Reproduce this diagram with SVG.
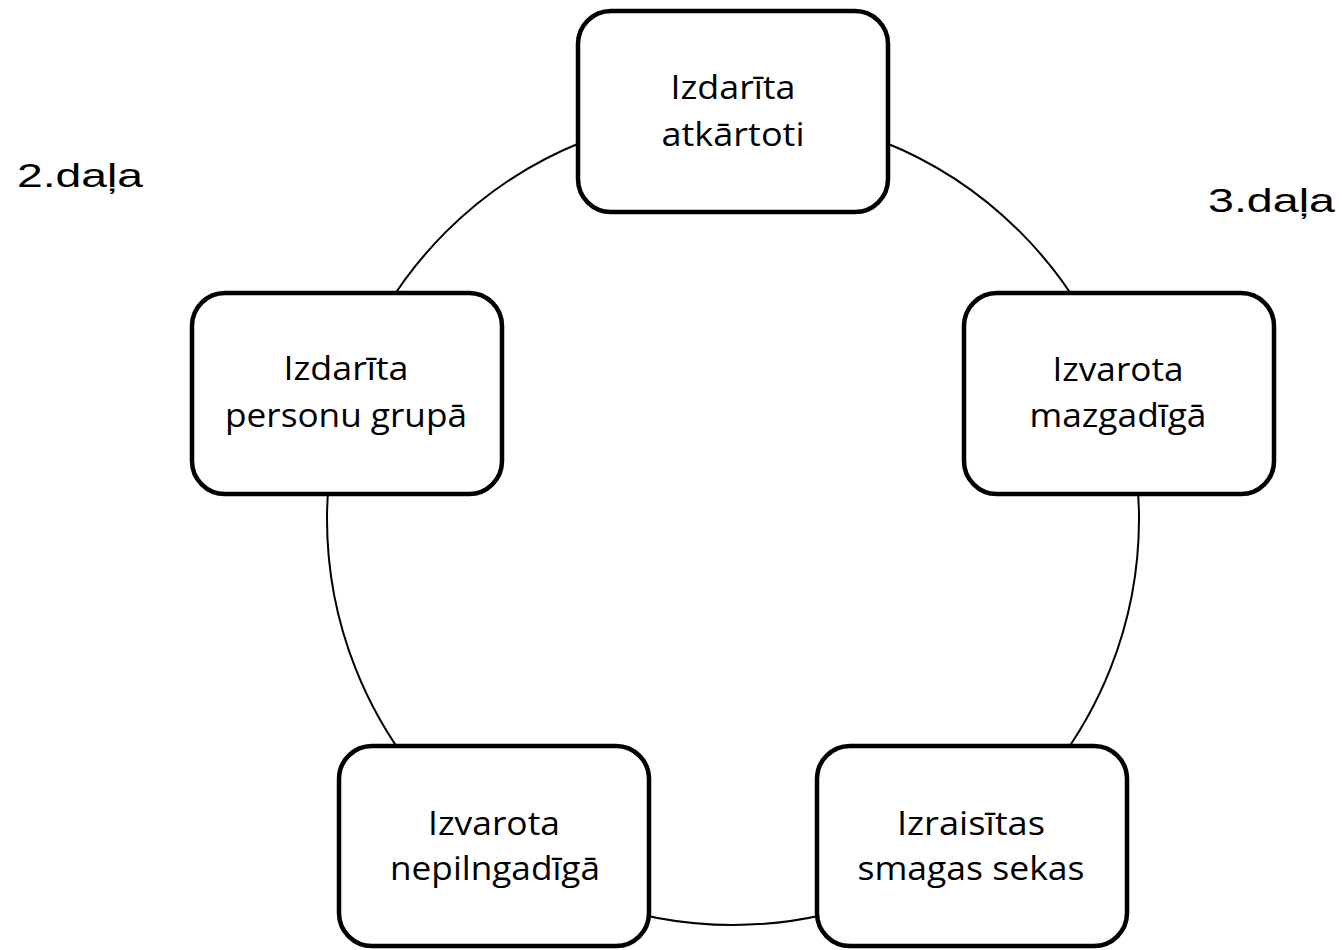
<svg xmlns="http://www.w3.org/2000/svg" width="1342" height="950" viewBox="0 0 1342 950">
<style>
.box{fill:#fff;stroke:#000;stroke-width:4.5}
.t{font-family:"Open Sans","Noto Sans",sans-serif;font-size:33px;fill:#000;text-anchor:middle}
.lbl{font-family:"Liberation Sans",Arial,sans-serif;font-size:34px;fill:#000}
.ring{fill:none;stroke:#000;stroke-width:2}
</style>
<rect width="1342" height="950" fill="#fff"/>
<g id="connectors">
<circle class="ring" cx="733" cy="519" r="406"/>
</g>
<g id="n-top">
<rect class="box" x="578" y="11" width="310" height="201" rx="33"/>
<text class="t" x="733" y="99" textLength="125" lengthAdjust="spacingAndGlyphs">Izdarīta</text>
<text class="t" x="733" y="146" textLength="143" lengthAdjust="spacingAndGlyphs">atkārtoti</text>
</g>
<g id="n-left">
<rect class="box" x="192" y="293" width="310" height="201" rx="33"/>
<text class="t" x="346" y="380" textLength="125" lengthAdjust="spacingAndGlyphs">Izdarīta</text>
<text class="t" x="346" y="427" textLength="242" lengthAdjust="spacingAndGlyphs">personu grupā</text>
</g>
<g id="n-right">
<rect class="box" x="964" y="293" width="310" height="201" rx="33"/>
<text class="t" x="1118" y="381" textLength="131" lengthAdjust="spacingAndGlyphs">Izvarota</text>
<text class="t" x="1118" y="427" textLength="177" lengthAdjust="spacingAndGlyphs">mazgadīgā</text>
</g>
<g id="n-bottom-left">
<rect class="box" x="339" y="746" width="310" height="200" rx="33"/>
<text class="t" x="494" y="835" textLength="132" lengthAdjust="spacingAndGlyphs">Izvarota</text>
<text class="t" x="495" y="880" textLength="210" lengthAdjust="spacingAndGlyphs">nepilngadīgā</text>
</g>
<g id="n-bottom-right">
<rect class="box" x="817" y="746" width="310" height="200" rx="33"/>
<text class="t" x="971" y="835" textLength="148" lengthAdjust="spacingAndGlyphs">Izraisītas</text>
<text class="t" x="971" y="880" textLength="227" lengthAdjust="spacingAndGlyphs">smagas sekas</text>
</g>
<g id="labels">
<text class="lbl" x="17" y="187" textLength="126" lengthAdjust="spacingAndGlyphs">2.daļa</text>
<text class="lbl" x="1208" y="212" textLength="127" lengthAdjust="spacingAndGlyphs">3.daļa</text>
</g>
</svg>
